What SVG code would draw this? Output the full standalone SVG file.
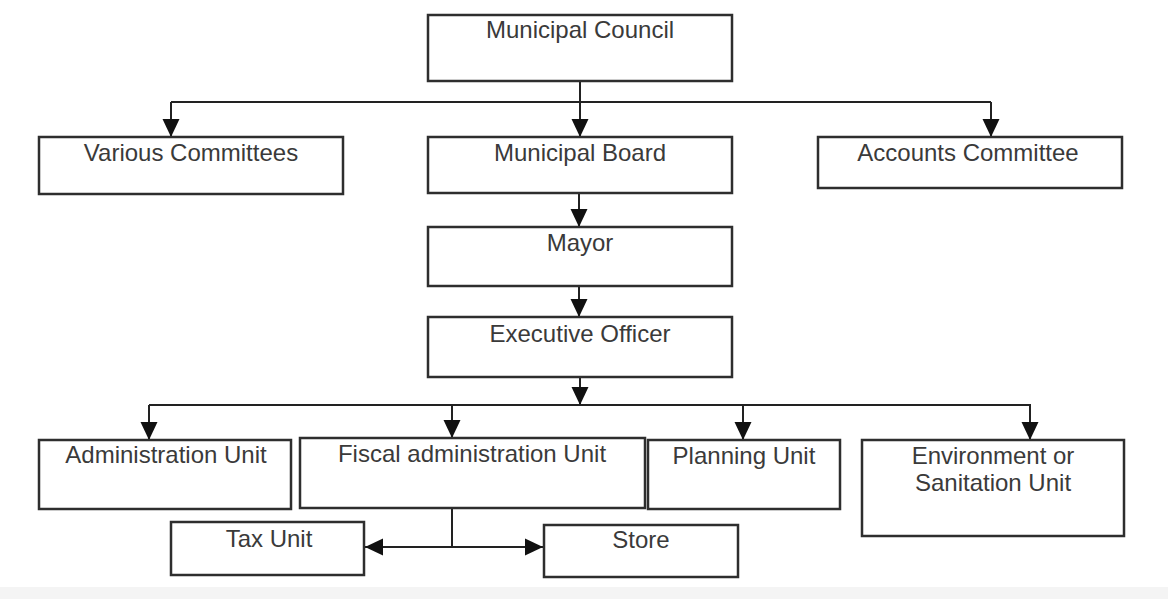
<svg xmlns="http://www.w3.org/2000/svg" width="1168" height="599" viewBox="0 0 1168 599">
  <defs>
    <marker id="arrow" viewBox="0 0 18 18" refX="18" refY="9" markerWidth="18" markerHeight="18" markerUnits="userSpaceOnUse" orient="auto">
      <path d="M0,0.5 L18,9 L0,17.5 z" fill="#111"/>
    </marker>
    <style>
      .box { fill: #ffffff; stroke: #2e2e2e; stroke-width: 2.5; }
      .label { font-family: "Liberation Sans", Arial, sans-serif; font-size: 24px; fill: #3a3a3a; text-anchor: middle; }
      .wire { fill: none; stroke: #222; stroke-width: 2; }
      .arrow { fill: none; stroke: #222; stroke-width: 2; marker-end: url(#arrow); }
    </style>
  </defs>

  <rect x="0" y="0" width="1168" height="599" fill="#ffffff"/>
  <rect x="0" y="587" width="1168" height="12" fill="#f4f4f4"/>

  <!-- connectors -->
  <g id="connectors">
    <path class="wire" d="M171,102 H991"/>
    <path class="arrow" d="M580,81 V137"/>
    <path class="arrow" d="M171,102 V137"/>
    <path class="arrow" d="M991,102 V137"/>
    <path class="arrow" d="M579,193 V227"/>
    <path class="arrow" d="M579,286 V317"/>
    <path class="arrow" d="M580,377 V405"/>
    <path class="wire" d="M149,405 H1031"/>
    <path class="arrow" d="M149,405 V440"/>
    <path class="arrow" d="M452,405 V438"/>
    <path class="arrow" d="M743,405 V440"/>
    <path class="arrow" d="M1030,405 V440"/>
    <path class="wire" d="M452,508 V547"/>
    <path class="arrow" d="M452,547 H365"/>
    <path class="arrow" d="M452,547 H543"/>
  </g>

  <!-- nodes -->
  <g id="municipal-council">
    <rect class="box" x="428" y="15" width="304" height="66"/>
    <text class="label" x="580" y="38">Municipal Council</text>
  </g>
  <g id="various-committees">
    <rect class="box" x="39" y="137" width="304" height="57"/>
    <text class="label" x="191" y="161">Various Committees</text>
  </g>
  <g id="municipal-board">
    <rect class="box" x="428" y="137" width="304" height="56"/>
    <text class="label" x="580" y="161">Municipal Board</text>
  </g>
  <g id="accounts-committee">
    <rect class="box" x="818" y="137" width="304" height="51"/>
    <text class="label" x="968" y="161">Accounts Committee</text>
  </g>
  <g id="mayor">
    <rect class="box" x="428" y="227" width="304" height="59"/>
    <text class="label" x="580" y="251">Mayor</text>
  </g>
  <g id="executive-officer">
    <rect class="box" x="428" y="317" width="304" height="60"/>
    <text class="label" x="580" y="342">Executive Officer</text>
  </g>
  <g id="administration-unit">
    <rect class="box" x="39" y="440" width="252" height="69"/>
    <text class="label" x="166" y="463">Administration Unit</text>
  </g>
  <g id="fiscal-administration-unit">
    <rect class="box" x="300" y="438" width="345" height="70"/>
    <text class="label" x="472" y="462">Fiscal administration Unit</text>
  </g>
  <g id="planning-unit">
    <rect class="box" x="648" y="440" width="192" height="69"/>
    <text class="label" x="744" y="464">Planning Unit</text>
  </g>
  <g id="environment-sanitation-unit">
    <rect class="box" x="862" y="440" width="262" height="96"/>
    <text class="label" x="993" y="464">Environment or</text>
    <text class="label" x="993" y="491">Sanitation Unit</text>
  </g>
  <g id="tax-unit">
    <rect class="box" x="171" y="522" width="193" height="53"/>
    <text class="label" x="269" y="547">Tax Unit</text>
  </g>
  <g id="store">
    <rect class="box" x="544" y="525" width="194" height="52"/>
    <text class="label" x="641" y="548">Store</text>
  </g>
</svg>
